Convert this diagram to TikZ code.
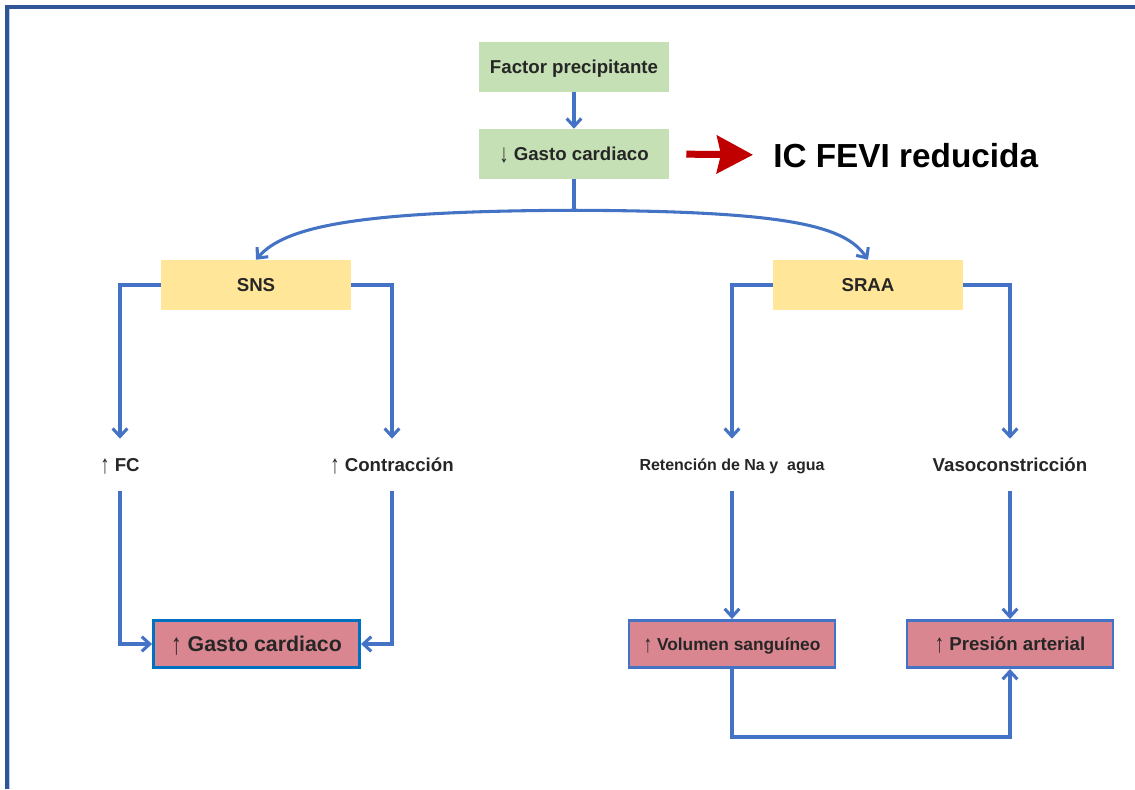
\documentclass[tikz,border=0pt]{standalone}
\usepackage{fontspec}
\setmainfont{Liberation Sans}
\usetikzlibrary{arrows.meta}
\definecolor{LinkBlue}{HTML}{4472C4}
\definecolor{FrameBlue}{HTML}{2F5597}
\definecolor{EdgeBlue}{HTML}{0070C0}
\definecolor{BoxGreen}{HTML}{C5E0B4}
\definecolor{BoxYellow}{HTML}{FFE699}
\definecolor{BoxPink}{HTML}{DA8690}
\definecolor{ArrowRed}{HTML}{C00000}
\definecolor{TextGray}{HTML}{262626}
\newcommand{\upmark}{\raisebox{-0.22ex}{\scalebox{1}[1.4]{\mdseries ↑}}}
\newcommand{\downmark}{\raisebox{-0.22ex}{\scalebox{1}[1.4]{\mdseries ↓}}}

\begin{document}
\begin{tikzpicture}[x=0.75pt,y=-0.75pt,
    every node/.style={text=TextGray,inner sep=0pt,text height=10pt,text depth=0pt,font=\bfseries\fontsize{14}{16}\selectfont},
    stage/.style={minimum width=142.5pt,minimum height=37.5pt},
    effect/.style={draw=LinkBlue,line width=2.2pt,fill=BoxPink,minimum width=154.5pt,minimum height=35.25pt},
    tag/.style={minimum height=39pt},
    link/.style={LinkBlue,line width=2.3pt,-{Straight Barb[length=6pt,width=11pt]}}]
  \useasboundingbox (0,0) rectangle (1135,789);
  % frame
  \draw[FrameBlue,line width=3pt] (7,789) -- (7,7) -- (1135,7);
  \draw[LinkBlue!35,line width=0.75pt] (9.8,789) -- (9.8,9);

  \node[stage,fill=BoxGreen] (fp) at (574,67) {Factor precipitante};
  \node[stage,fill=BoxGreen] (gc) at (574,154) {\downmark\ Gasto cardiaco};
  \node[anchor=west,text=black,text height=18pt,font=\bfseries\fontsize{25}{28}\selectfont] (ic) at (773,155) {IC FEVI reducida};

  \node[stage,fill=BoxYellow] (sns) at (256,285) {SNS};
  \node[stage,fill=BoxYellow] (sraa) at (868,285) {SRAA};

  \node[tag] (fc) at (120,465) {\upmark\ FC};
  \node[tag] (contr) at (392,465) {\upmark\ Contracción};
  \node[tag,text height=8.6pt,font=\bfseries\fontsize{12}{14}\selectfont] (ret) at (732,465) {Retención de Na y\ \ agua};
  \node[tag] (vaso) at (1010,465) {Vasoconstricción};

  \node[effect,draw=EdgeBlue,text height=11.5pt,font=\bfseries\fontsize{16}{18}\selectfont] (gcup) at (256.5,644) {\upmark\ Gasto cardiaco};
  \node[effect,text height=9.3pt,font=\bfseries\fontsize{13}{15}\selectfont] (vol) at (732,644) {\upmark\ Volumen sanguíneo};
  \node[effect] (pres) at (1010,644) {\upmark\ Presión arterial};

  \draw[link] (fp) -- (gc);
  \draw[ArrowRed,line width=5.25pt,-{Stealth[length=27pt,width=28pt,inset=3pt]},shorten <=12.75pt,shorten >=15pt] (gc.east) -- (ic.west);

  \draw[LinkBlue,line width=2.3pt] (gc.south) -- ++(0,31) coordinate (split);
  \draw[link] (split) .. controls (360,211) and (285,226) .. (sns.north);
  \draw[link] (split) .. controls (790,211) and (845,226) .. (sraa.north);

  \draw[link] (sns.west) -| (fc.north);
  \draw[link] (sns.east) -| (contr.north);
  \draw[link] (sraa.west) -| (ret.north);
  \draw[link] (sraa.east) -| (vaso.north);

  \draw[link] (fc.south) |- (gcup.west);
  \draw[link] (contr.south) |- (gcup.east);
  \draw[link] (ret.south) -- (vol.north);
  \draw[link] (vaso.south) -- (pres.north);
  \draw[link] (vol.south) -- ++(0,68) -| (pres.south);
\end{tikzpicture}
\end{document}
